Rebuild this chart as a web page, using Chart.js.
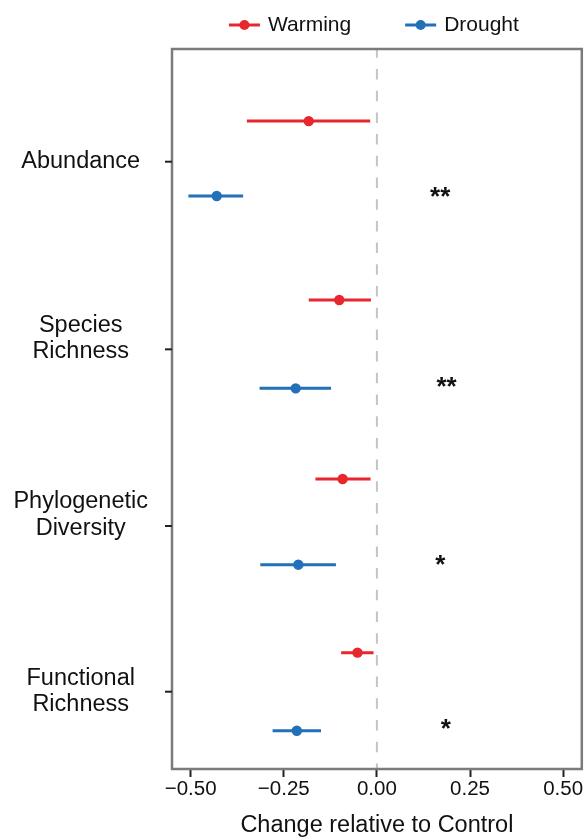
<!DOCTYPE html>
<html><head><meta charset="utf-8">
<script src="https://cdn.jsdelivr.net/npm/chart.js@4.4.0/dist/chart.umd.min.js"></script>
<style>html,body{margin:0;padding:0;background:#fff;} canvas{display:block;}</style>
</head><body>
<canvas id="c" width="587" height="837"></canvas>
<script>
// ---- data ----
const categories = [['Abundance'], ['Species', 'Richness'], ['Phylogenetic', 'Diversity'], ['Functional', 'Richness']];
const categoryY = [1, 2, 3, 4];
const tickY = [1, 2.062, 3.062, 4];
const xTicks = [-0.5, -0.25, 0, 0.25, 0.5];
const xTickLabels = ['\u22120.50', '\u22120.25', '0.00', '0.25', '0.50'];

const warmingMean = [-0.183, -0.101, -0.092, -0.052];
const warmingLow  = [-0.349, -0.183, -0.165, -0.096];
const warmingHigh = [-0.018, -0.016, -0.017, -0.009];
const warmingY    = [0.770, 1.783, 2.796, 3.779];

const droughtMean = [-0.430, -0.218, -0.211, -0.215];
const droughtLow  = [-0.506, -0.315, -0.313, -0.280];
const droughtHigh = [-0.359, -0.123, -0.110, -0.150];
const droughtY    = [1.194, 2.283, 3.281, 4.221];

const signif  = ['**', '**', '*', '*'];
const signifX = [0.170, 0.187, 0.170, 0.185];
const signifY = [1.170, 2.245, 3.254, 4.185];

// ---- styles ----
const RED = '#E7262E', BLUE = '#2170B8';
const FONT = '"Liberation Sans", Arial, Helvetica, sans-serif';
Chart.defaults.font.family = FONT;
Chart.defaults.color = '#111';

function points(mean, ys) { return mean.map((m, i) => ({x: m, y: ys[i]})); }
function bars(lo, hi, ys) {
  const out = [];
  lo.forEach((l, i) => { out.push({x: l, y: ys[i]}, {x: hi[i], y: ys[i]}, {x: hi[i], y: null}); });
  return out;
}

const refLineAndDecor = {
  id: 'decor',
  beforeDatasetsDraw(chart) {
    const {ctx, chartArea: a, scales: {x}} = chart;
    const px = x.getPixelForValue(0);
    ctx.save();
    ctx.strokeStyle = '#c4c4c4';
    ctx.lineWidth = 2;
    ctx.setLineDash([10.5, 11.2]);
    ctx.lineDashOffset = 1.7;
    ctx.beginPath(); ctx.moveTo(px, a.top); ctx.lineTo(px, a.bottom); ctx.stroke();
    ctx.restore();
  },
  afterDatasetsDraw(chart) {
    const {ctx, scales: {x, y}} = chart;
    ctx.save();
    ctx.fillStyle = '#111';
    ctx.font = 'bold 26px ' + FONT;
    ctx.textAlign = 'center';
    ctx.textBaseline = 'alphabetic';
    signif.forEach((s, i) => {
      const m = ctx.measureText(s);
      const cy = y.getPixelForValue(signifY[i]);
      const base = cy + (m.actualBoundingBoxAscent - m.actualBoundingBoxDescent) / 2;
      ctx.fillText(s, x.getPixelForValue(signifX[i]), base);
    });
    ctx.restore();
  },
  afterDraw(chart) {
    const {ctx, chartArea: a, scales: {y}} = chart;
    ctx.save();
    // panel border
    ctx.strokeStyle = '#7b7b7b';
    ctx.lineWidth = 2.5;
    ctx.strokeRect(a.left, a.top, a.right - a.left, a.bottom - a.top);
    // y tick marks
    ctx.strokeStyle = '#222';
    ctx.lineWidth = 2;
    tickY.forEach(v => {
      const py = y.getPixelForValue(v);
      ctx.beginPath(); ctx.moveTo(a.left - 7, py); ctx.lineTo(a.left, py); ctx.stroke();
    });
    // legend
    const items = chart.data.datasets.filter(d => d.showInLegend);
    ctx.font = '21px ' + FONT;
    ctx.textBaseline = 'middle';
    ctx.textAlign = 'left';
    const markW = 31, gap = 8, spacing = 54;
    let total = 0;
    items.forEach((d, i) => { total += markW + gap + ctx.measureText(d.label).width + (i ? spacing : 0); });
    let cx = (a.left + a.right) / 2 - total / 2 - 3;
    const ly = 25;
    items.forEach(d => {
      ctx.strokeStyle = d.backgroundColor; ctx.fillStyle = d.backgroundColor;
      ctx.lineWidth = 3;
      ctx.beginPath(); ctx.moveTo(cx, ly); ctx.lineTo(cx + markW, ly); ctx.stroke();
      ctx.beginPath(); ctx.arc(cx + markW / 2, ly, 5, 0, Math.PI * 2); ctx.fill();
      cx += markW + gap;
      ctx.fillStyle = '#111';
      ctx.fillText(d.label, cx, ly);
      cx += ctx.measureText(d.label).width + spacing;
    });
    ctx.restore();
  }
};

new Chart(document.getElementById('c'), {
  type: 'scatter',
  data: {
    datasets: [
      {label: 'Warming', showInLegend: true, data: points(warmingMean, warmingY), backgroundColor: RED, borderColor: RED, pointRadius: 5.2, pointBorderWidth: 0, order: 0},
      {label: 'Drought', showInLegend: true, data: points(droughtMean, droughtY), backgroundColor: BLUE, borderColor: BLUE, pointRadius: 5.2, pointBorderWidth: 0, order: 0},
      {label: 'Warming CI', data: bars(warmingLow, warmingHigh, warmingY), showLine: true, spanGaps: false, borderColor: RED, backgroundColor: RED, borderWidth: 3, pointRadius: 0, order: 1},
      {label: 'Drought CI', data: bars(droughtLow, droughtHigh, droughtY), showLine: true, spanGaps: false, borderColor: BLUE, backgroundColor: BLUE, borderWidth: 3, pointRadius: 0, order: 1}
    ]
  },
  options: {
    responsive: false,
    animation: false,
    devicePixelRatio: 1,
    layout: {padding: {top: 49, right: 3, bottom: 0, left: 0}},
    plugins: {legend: {display: false}, tooltip: {enabled: false}},
    scales: {
      x: {
        type: 'linear', position: 'bottom', min: -0.55, max: 0.55,
        afterBuildTicks: s => { s.ticks = xTicks.map(v => ({value: v})); },
        afterFit: s => { s.height = 68; },
        ticks: {callback: (v, i) => xTickLabels[i], font: {size: 20.5}, color: '#111', padding: 0, maxRotation: 0, autoSkip: false},
        grid: {display: true, drawOnChartArea: false, drawTicks: true, tickLength: 8, tickColor: '#222', tickWidth: 2},
        border: {display: false},
        title: {display: true, text: 'Change relative to Control', font: {size: 23.5}, color: '#111', padding: {top: 0, bottom: -3}}
      },
      y: {
        type: 'linear', position: 'left', reverse: true, min: 0.362, max: 4.4375,
        afterBuildTicks: s => { s.ticks = categoryY.map(v => ({value: v})); },
        afterFit: s => { s.width = 172; },
        ticks: {callback: (v, i) => categories[i], font: {size: 23.5, lineHeight: 1.11}, color: '#111', crossAlign: 'center', padding: 16, autoSkip: false},
        grid: {display: false},
        border: {display: false}
      }
    }
  },
  plugins: [refLineAndDecor]
});
</script></body></html>
